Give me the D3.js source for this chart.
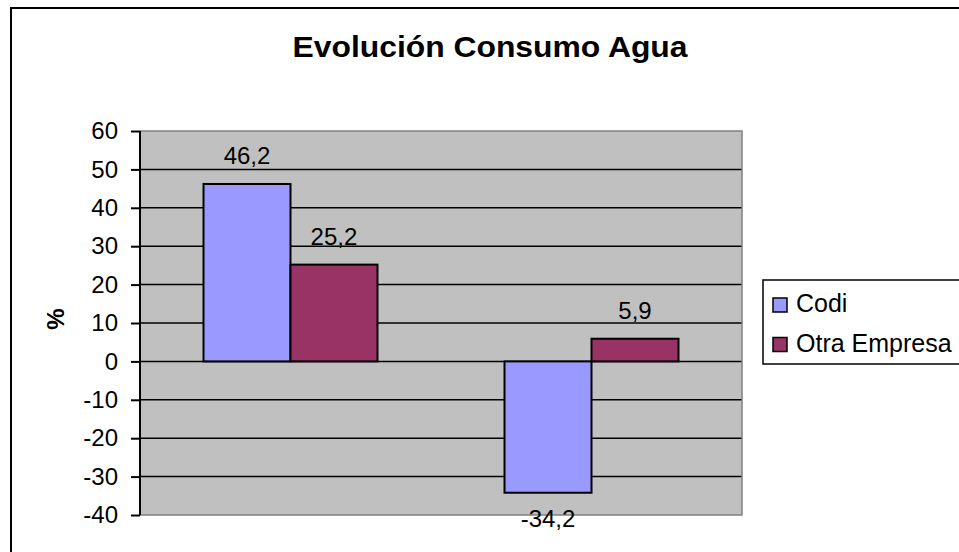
<!DOCTYPE html>
<html>
<head>
<meta charset="utf-8">
<script src="https://d3js.org/d3.v7.min.js"></script>
<style>
  body { margin: 0; background: #fff; }
  text { font-family: "Liberation Sans", Arial, sans-serif; }
</style>
</head>
<body>
<div id="chart-area"></div>
<script>
// data
var categories = ["Periodo 1", "Periodo 2"];
var seriesNames = ["Codi", "Otra Empresa"];
var codiValues = [46.2, -34.2];
var otraValues = [25.2, 5.9];
var yTicks = [-40, -30, -20, -10, 0, 10, 20, 30, 40, 50, 60];
var colors = ["#9999FF", "#993366"];

var rows = categories.map((c, i) => {
    return { cat: c, values: [codiValues[i], otraValues[i]] };
});

var svg = d3.select("#chart-area").append("svg")
    .attr("width", 959)
    .attr("height", 552);

// outer chart border
svg.append("rect")
    .attr("x", 11).attr("y", 8)
    .attr("width", 1000).attr("height", 600)
    .attr("fill", "#fff")
    .attr("stroke", "#000")
    .attr("stroke-width", 2);

// plot area edges ("top" is reserved in the browser, so use other names)
var pLeft = 140, pRight = 742, pTop = 131, pBottom = 515;

var x = d3.scaleBand()
    .domain(categories)
    .range([pLeft, pRight])
    .paddingInner(0.422)
    .paddingOuter(0.211);

var xs = d3.scaleBand()
    .domain(seriesNames)
    .range([0, x.bandwidth()]);

var y = d3.scaleLinear()
    .domain([-40, 60])
    .range([pBottom, pTop]);

// plot background
svg.append("rect")
    .attr("x", pLeft).attr("y", pTop)
    .attr("width", pRight - pLeft).attr("height", pBottom - pTop)
    .attr("fill", "#C0C0C0");

// grid lines
svg.selectAll(".grid")
    .data(yTicks.filter(d => d > -40 && d < 60))
    .enter().append("line")
        .attr("x1", pLeft).attr("x2", pRight)
        .attr("y1", d => y(d)).attr("y2", d => y(d))
        .attr("stroke", "#000")
        .attr("stroke-width", 1.5);

// plot area edges (gray)
svg.append("path")
    .attr("d", "M" + pLeft + "," + pTop + "H" + pRight + "V" + pBottom + "H" + pLeft)
    .attr("fill", "none")
    .attr("stroke", "#808080")
    .attr("stroke-width", 1.5);

// bars
var groups = svg.selectAll(".group")
    .data(rows)
    .enter().append("g")
        .attr("transform", d => "translate(" + x(d.cat) + ",0)");

groups.selectAll("rect")
    .data(d => d.values.map((v, i) => ({ name: seriesNames[i], v: v, i: i })))
    .enter().append("rect")
        .attr("x", d => xs(d.name))
        .attr("width", xs.bandwidth())
        .attr("y", d => y(Math.max(0, d.v)))
        .attr("height", d => Math.abs(y(d.v) - y(0)))
        .attr("fill", d => colors[d.i])
        .attr("stroke", "#000")
        .attr("stroke-width", 2);

groups.selectAll(".lbl")
    .data(d => d.values.map((v, i) => ({ name: seriesNames[i], v: v })))
    .enter().append("text")
        .attr("x", d => xs(d.name) + xs.bandwidth() / 2)
        .attr("y", d => d.v >= 0 ? y(d.v) - 20 : y(d.v) + 34)
        .attr("text-anchor", "middle")
        .attr("font-size", 24)
        .text(d => String(d.v).replace(".", ","));

// y axis
var yAxis = d3.axisLeft(y)
    .tickValues(yTicks)
    .tickSize(9)
    .tickPadding(13)
    .tickFormat(d => d);

var ax = svg.append("g")
    .attr("transform", "translate(" + pLeft + ",0)")
    .call(yAxis);
ax.select(".domain").attr("stroke", "#000").attr("stroke-width", 2).attr("d", "M0," + pTop + "V" + pBottom);
ax.selectAll(".tick line").attr("stroke", "#000").attr("stroke-width", 2);
ax.selectAll(".tick text")
    .attr("font-size", 24)
    .attr("fill", "#000")
    .attr("font-family", "Liberation Sans, Arial, sans-serif");

// y title
svg.append("text")
    .attr("transform", "translate(64,319) rotate(-90)")
    .attr("text-anchor", "middle")
    .attr("font-size", 24)
    .attr("font-weight", "bold")
    .text("%");

// title
svg.append("text")
    .attr("x", 490).attr("y", 57)
    .attr("text-anchor", "middle")
    .attr("font-size", 30)
    .attr("font-weight", "bold")
    .attr("textLength", 395)
    .attr("lengthAdjust", "spacingAndGlyphs")
    .text("Evolución Consumo Agua");

// legend
var legend = svg.append("g");
legend.append("rect")
    .attr("x", 763).attr("y", 280)
    .attr("width", 300).attr("height", 84)
    .attr("fill", "#fff")
    .attr("stroke", "#000")
    .attr("stroke-width", 1.5);

var items = legend.selectAll(".item")
    .data(seriesNames)
    .enter().append("g")
        .attr("transform", (d, i) => "translate(773," + (298 + i * 39.5) + ")");
items.append("rect")
    .attr("width", 14).attr("height", 14)
    .attr("fill", (d, i) => colors[i])
    .attr("stroke", "#000")
    .attr("stroke-width", 1.5);
items.append("text")
    .attr("x", 23).attr("y", 14)
    .attr("font-size", 25)
    .text(d => d);
</script>
</body>
</html>
